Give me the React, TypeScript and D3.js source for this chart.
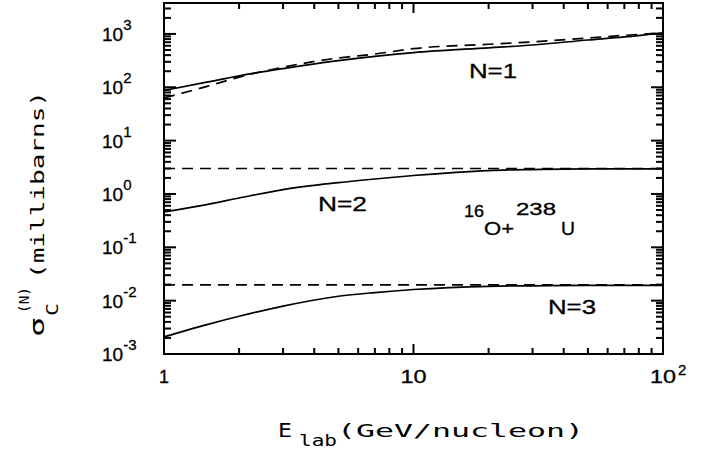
import * as d3 from 'd3';

const width = 706;
const height = 450;
const margin = { top: 3, right: 43, bottom: 96, left: 164 };

// beam energy, GeV/nucleon
const energies = [1, 1.5, 2, 3, 5, 7, 10, 20, 30, 50, 70, 100];

// sigma_C^(N), millibarns (solid = full calc, dashed = asymptotic)
const solidN1 = [87, 126, 164, 224, 316, 380, 446, 550, 620, 770, 880, 1050];
const dashedN1 = [63, 105, 155, 238, 355, 420, 530, 640, 710, 840, 940, 1050];
const solidN2 = [0.46, 0.64, 0.84, 1.21, 1.63, 1.91, 2.22, 2.75, 2.87, 2.95, 2.95, 2.95];
const dashedN2 = [3.0, 3.0, 3.0, 3.0, 3.0, 3.0, 3.0, 3.0, 3.0, 3.0, 3.0, 3.0];
const solidN3 = [0.0021, 0.0036, 0.0051, 0.0079, 0.0121, 0.0142, 0.0162, 0.0186, 0.019, 0.0193, 0.0193, 0.0193];
const dashedN3 = [0.0198, 0.0198, 0.0198, 0.0198, 0.0198, 0.0198, 0.0198, 0.0198, 0.0198, 0.0198, 0.0198, 0.0198];

const yDecades = [-3, -2, -1, 0, 1, 2, 3];
const xLabels = ['1', '10', '10'];
const xLabelExp = ['', '', '2'];

const tickFont = 'Liberation Sans, Arial, sans-serif';
const monoFont = 'DejaVu Sans Mono, monospace';

export default function App() {
  const x0 = margin.left;
  const x1 = width - margin.right;
  const y0 = height - margin.bottom;
  const y1 = margin.top;

  const x = d3.scaleLog().domain([1, 100]).range([x0, x1]);
  const y = d3.scaleLog().domain([1e-3, 3800]).range([y0, y1]);

  const curve = d3
    .line<number>()
    .x((d, i) => x(energies[i]))
    .y((d) => y(d))
    .curve(d3.curveMonotoneX);

  const isMajor = (v: number) => Math.abs(Math.log10(v) - Math.round(Math.log10(v))) < 1e-6;

  // minor ticks 2..9 per decade, built by the scale
  const yTicks = y.ticks(20).filter((v) => y(v) >= y1 - 0.5);
  const xTicks = x.ticks(20);
  const yLen = (v: number) => (isMajor(v) ? 12 : 7);
  const xLen = (v: number) => (isMajor(v) ? 10 : 6);

  const series = [
    { values: solidN1, dash: '' },
    { values: dashedN1, dash: '11,7' },
    { values: solidN2, dash: '' },
    { values: dashedN2, dash: '11,7' },
    { values: solidN3, dash: '' },
    { values: dashedN3, dash: '11,7' },
  ];

  return (
    <svg width={width} height={height} style={{ position: 'absolute', left: 0, top: 0 }}>
      {/* curves */}
      {series.map((s, i) => (
        <path
          key={'c' + i}
          d={curve(s.values) || ''}
          fill="none"
          stroke="#000"
          strokeWidth={1.7}
          strokeDasharray={s.dash || undefined}
        />
      ))}

      {/* frame */}
      <rect x={x0} y={y1} width={x1 - x0} height={y0 - y1} fill="none" stroke="#000" strokeWidth={2} />

      {/* ticks */}
      <g fill="#000">
        {yTicks.map((v, i) => (
          <rect key={'yl' + i} x={x0} y={y(v) - 1} width={yLen(v)} height={2} />
        ))}
        {yTicks.map((v, i) => (
          <rect key={'yr' + i} x={x1 - yLen(v)} y={y(v) - 1} width={yLen(v)} height={2} />
        ))}
        {xTicks.map((v, i) => (
          <rect key={'xb' + i} x={x(v) - 1} y={y0 - xLen(v)} width={2} height={xLen(v)} />
        ))}
        {xTicks.map((v, i) => (
          <rect key={'xt' + i} x={x(v) - 1} y={y1} width={2} height={xLen(v)} />
        ))}
      </g>

      <g fill="#000" stroke="#000" strokeWidth={0.3}>
        {/* y tick labels */}
        {yDecades.map((p) => (
          <text key={'yl' + p} x={102} y={y(Math.pow(10, p)) + 7} fontFamily={tickFont} fontSize={19}>
            <tspan>10</tspan>
            <tspan dy={-11} fontSize={15}>
              {p < 0 ? '-' + Math.abs(p) : String(p)}
            </tspan>
          </text>
        ))}

        {/* x tick labels */}
        <text x={x(1)} y={383} textAnchor="middle" fontFamily={tickFont} fontSize={18}>
          {xLabels[0]}
        </text>
        <text x={x(10)} y={383} textAnchor="middle" fontFamily={tickFont} fontSize={18} textLength={26} lengthAdjust="spacingAndGlyphs">
          {xLabels[1]}
        </text>
        <text x={x(100) - 13} y={383} fontFamily={tickFont} fontSize={18} textLength={26} lengthAdjust="spacingAndGlyphs">
          {xLabels[2]}
        </text>
        <text x={x(100) + 15} y={375} fontFamily={tickFont} fontSize={15}>
          {xLabelExp[2]}
        </text>

        {/* curve labels */}
        <text x={469} y={78} fontFamily={tickFont} fontSize={20} textLength={48} lengthAdjust="spacingAndGlyphs">N=1</text>
        <text x={318} y={211} fontFamily={tickFont} fontSize={20} textLength={49} lengthAdjust="spacingAndGlyphs">N=2</text>
        <text x={548} y={314} fontFamily={tickFont} fontSize={20} textLength={48} lengthAdjust="spacingAndGlyphs">N=3</text>

        {/* reaction */}
        <text x={464} y={217} fontFamily={tickFont} fontSize={16} textLength={20} lengthAdjust="spacingAndGlyphs">16</text>
        <text x={484} y={235} fontFamily={tickFont} fontSize={19} textLength={30} lengthAdjust="spacingAndGlyphs">O+</text>
        <text x={516} y={215} fontFamily={tickFont} fontSize={16} textLength={40} lengthAdjust="spacingAndGlyphs">238</text>
        <text x={561} y={235} fontFamily={tickFont} fontSize={19} textLength={14} lengthAdjust="spacingAndGlyphs">U</text>
      </g>

      <g fill="#000">
        {/* x title */}
        <text x={278} y={437} fontFamily={monoFont} fontSize={19} textLength={14} lengthAdjust="spacingAndGlyphs">E</text>
        <text x={299} y={446} fontFamily={monoFont} fontSize={15} textLength={38} lengthAdjust="spacingAndGlyphs">lab</text>
        <text x={337} y={437} fontFamily={monoFont} fontSize={18} textLength={247} lengthAdjust="spacingAndGlyphs">(GeV/nucleon)</text>

        {/* y title */}
        <text transform="translate(44,337) rotate(-90)" fontFamily={monoFont} fontSize={19} textLength={20} lengthAdjust="spacingAndGlyphs">σ</text>
        <text transform="translate(58,316) rotate(-90)" fontFamily={monoFont} fontSize={15} textLength={13} lengthAdjust="spacingAndGlyphs">C</text>
        <text transform="translate(29,313) rotate(-90)" fontFamily={monoFont} fontSize={14} textLength={26} lengthAdjust="spacingAndGlyphs">(N)</text>
        <text transform="translate(44,279) rotate(-90)" fontFamily={monoFont} fontSize={18} textLength={188} lengthAdjust="spacingAndGlyphs">(millibarns)</text>
      </g>
    </svg>
  );
}
